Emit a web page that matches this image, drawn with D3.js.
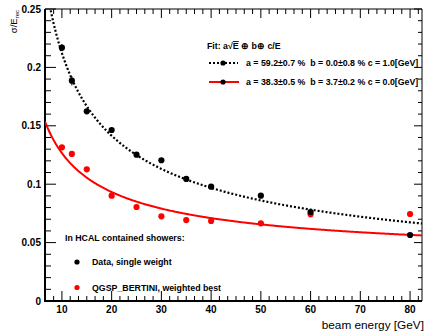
<!DOCTYPE html>
<html><head><meta charset="utf-8">
<script src="https://cdn.jsdelivr.net/npm/d3@7"></script>
<style>body{margin:0;background:#fff}svg{display:block}text{font-family:"Liberation Sans",Arial,sans-serif;white-space:pre}</style>
</head><body>
<script>
const energies = [10, 12, 15, 20, 25, 30, 35, 40, 50, 60, 80];
const dataSigma = [0.2169, 0.1886, 0.1624, 0.1464, 0.1253, 0.1205, 0.1045, 0.0979, 0.0902, 0.0762, 0.0565];
const dataErr = [0.003, 0.004, 0.002, 0.002, 0.0015, 0.0015, 0.0015, 0.0015, 0.0015, 0.0015, 0.0015];
const simSigma = [0.1316, 0.1259, 0.1127, 0.0902, 0.0805, 0.0725, 0.0693, 0.0685, 0.0665, 0.0742, 0.0745];
// fit parameters (a, b in fraction; c in GeV)
const fitData = {a: 0.592, b: 0.000, c: 1.0};
const fitSim = {a: 0.383, b: 0.037, c: 0.0};
const xTicks = [10, 20, 30, 40, 50, 60, 70, 80];
const yTicks = [0, 0.05, 0.1, 0.15, 0.2, 0.25];
const yTickLabels = ["0", "0.05", "0.1", "0.15", "0.2", "0.25"];

const W = 426, H = 332;
const L = 45, R = 422, T = 9, B = 301;
const x = d3.scaleLinear([6.6, 82.4], [L, R]);
const y = d3.scaleLinear([0, 0.25], [B, T]);

const svg = d3.select("body").append("svg").attr("width", W).attr("height", H);
svg.append("defs").append("clipPath").attr("id", "clip")
  .append("rect").attr("x", L).attr("y", T).attr("width", R - L).attr("height", B - T);

svg.append("line").attr("x1", L).attr("x2", R).attr("y1", T).attr("y2", T).attr("stroke", "#000").attr("stroke-width", 1);
svg.append("line").attr("x1", R).attr("x2", R).attr("y1", T).attr("y2", B).attr("stroke", "#000").attr("stroke-width", 1);

const xMinor = d3.range(0, 60).map(i => 10 * i / 6).filter(v => v > 6.6 && v < 82.4 && Math.abs(v / 10 - Math.round(v / 10)) > 1e-6);
const yMinor = d3.range(0, 26).map(i => i * 0.01).filter(v => Math.abs(v / 0.05 - Math.round(v / 0.05)) > 1e-6);

const g = svg.append("g").attr("stroke", "#000").attr("fill", "none").attr("stroke-width", 1);
xTicks.forEach(v => g.append("line").attr("x1", x(v)).attr("x2", x(v)).attr("y1", B).attr("y2", B - 10));
xMinor.forEach(v => g.append("line").attr("x1", x(v)).attr("x2", x(v)).attr("y1", B).attr("y2", B - 5));
xTicks.forEach(v => g.append("line").attr("x1", x(v)).attr("x2", x(v)).attr("y1", T).attr("y2", T + 9));
xMinor.forEach(v => g.append("line").attr("x1", x(v)).attr("x2", x(v)).attr("y1", T).attr("y2", T + 5));
yTicks.forEach(v => g.append("line").attr("x1", L).attr("x2", L + 11).attr("y1", y(v)).attr("y2", y(v)));
yMinor.forEach(v => g.append("line").attr("x1", L).attr("x2", L + 6).attr("y1", y(v)).attr("y2", y(v)));
yTicks.forEach(v => g.append("line").attr("x1", R).attr("x2", R - 8).attr("y1", y(v)).attr("y2", y(v)));
yMinor.forEach(v => g.append("line").attr("x1", R).attr("x2", R - 4).attr("y1", y(v)).attr("y2", y(v)));

svg.append("line").attr("x1", L).attr("x2", R).attr("y1", B).attr("y2", B).attr("stroke", "#000").attr("stroke-width", 2);
svg.append("line").attr("x1", L).attr("x2", L).attr("y1", T).attr("y2", B + 1).attr("stroke", "#000").attr("stroke-width", 2);

svg.selectAll("text.yt").data(yTicks).join("text").attr("class", "yt")
  .attr("x", L - 4).attr("y", d => y(d) + 3.6).attr("text-anchor", "end")
  .attr("font-size", 10).attr("font-weight", "bold").text((d, i) => yTickLabels[i]);
svg.selectAll("text.xt").data(xTicks).join("text").attr("class", "xt")
  .attr("x", d => x(d)).attr("y", 312.5).attr("text-anchor", "middle")
  .attr("font-size", 10).attr("font-weight", "bold").text(d => d);

svg.append("text").attr("x", R + 2).attr("y", 329).attr("text-anchor", "end")
  .attr("font-size", 11.8).text("beam energy [GeV]");
const yt = svg.append("text").attr("transform", "translate(16.5,10) rotate(-90)")
  .attr("text-anchor", "end").attr("font-size", 9.5);
yt.append("tspan").text("σ/E");
yt.append("tspan").attr("font-size", 6).attr("dy", 2).text("rec");

const resol = p => E => Math.sqrt(p.a * p.a / E + p.b * p.b + (p.c / E) * (p.c / E));
const Es = d3.range(0, 401).map(i => 6.6 + (82.4 - 6.6) * i / 400);
const line = f => d3.line().x(E => x(E)).y(E => y(f(E)))(Es);
const cg = svg.append("g").attr("clip-path", "url(#clip)");
cg.append("path").attr("d", line(resol(fitSim))).attr("fill", "none").attr("stroke", "#ff0000").attr("stroke-width", 2);
cg.append("path").attr("d", line(resol(fitData))).attr("fill", "none").attr("stroke", "#000").attr("stroke-width", 2.2).attr("stroke-dasharray", "2,2");

cg.selectAll("line.err").data(energies).join("line").attr("class", "err")
  .attr("x1", d => x(d)).attr("x2", d => x(d))
  .attr("y1", (d, i) => y(dataSigma[i] - dataErr[i])).attr("y2", (d, i) => y(dataSigma[i] + dataErr[i]))
  .attr("stroke", "#000").attr("stroke-width", 1);
cg.selectAll("circle.sim").data(energies).join("circle").attr("class", "sim")
  .attr("cx", d => x(d)).attr("cy", (d, i) => y(simSigma[i])).attr("r", 3.1).attr("fill", "#ff0000");
cg.selectAll("circle.dat").data(energies).join("circle").attr("class", "dat")
  .attr("cx", d => x(d)).attr("cy", (d, i) => y(dataSigma[i])).attr("r", 3.1).attr("fill", "#000");

const fs = 8.8;
const ft = svg.append("text").attr("x", 207).attr("y", 49).attr("font-size", fs).attr("font-weight", "bold");
ft.append("tspan").text("Fit: a√");
ft.append("tspan").attr("text-decoration", "overline").text("E");
ft.append("tspan").text(" ⊕ b⊕ c/E");
svg.append("line").attr("x1", 209).attr("x2", 238).attr("y1", 63).attr("y2", 63).attr("stroke", "#000").attr("stroke-width", 2).attr("stroke-dasharray", "2,2");
svg.append("circle").attr("cx", 223).attr("cy", 63).attr("r", 2.6).attr("fill", "#000");
svg.append("text").attr("x", 246).attr("y", 66).attr("font-size", fs).attr("font-weight", "bold")
  .text("a = 59.2±0.7 %  b = 0.0±0.8 % c = 1.0[GeV]");
svg.append("line").attr("x1", 209).attr("x2", 239).attr("y1", 82).attr("y2", 82).attr("stroke", "#ff0000").attr("stroke-width", 2);
svg.append("circle").attr("cx", 223).attr("cy", 82).attr("r", 2.6).attr("fill", "#000");
svg.append("text").attr("x", 246).attr("y", 85).attr("font-size", fs).attr("font-weight", "bold")
  .text("a = 38.3±0.5 %  b = 3.7±0.2 % c = 0.0[GeV]");

svg.append("text").attr("x", 65).attr("y", 240.5).attr("font-size", fs).attr("font-weight", "bold").text("In HCAL contained showers:");
svg.append("circle").attr("cx", 77).attr("cy", 262).attr("r", 2.6).attr("fill", "#000");
svg.append("text").attr("x", 92).attr("y", 265).attr("font-size", fs).attr("font-weight", "bold").text("Data, single weight");
svg.append("circle").attr("cx", 77).attr("cy", 287.5).attr("r", 2.6).attr("fill", "#ff0000");
svg.append("text").attr("x", 92).attr("y", 290.5).attr("font-size", fs).attr("font-weight", "bold").text("QGSP_BERTINI, weighted best");
</script>
</body></html>
